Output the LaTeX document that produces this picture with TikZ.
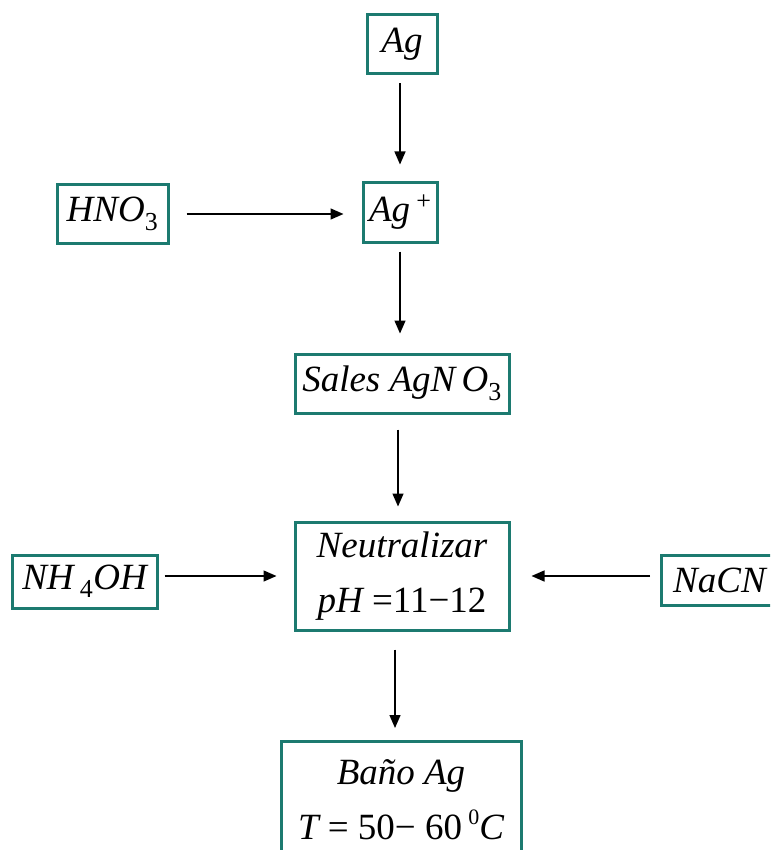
\documentclass[tikz,border=0pt]{standalone}
\usepackage{fontspec}
\setmainfont{Liberation Serif}
\usetikzlibrary{arrows.meta}
\definecolor{boxteal}{RGB}{28,122,112}
\tikzset{
  x=1pt,y=-1pt,
  box/.style={draw=boxteal,line width=3pt,inner sep=0pt,align=center,
    font=\fontsize{37}{55}\selectfont},
  arr/.style={line width=1.4pt,-{Triangle[length=13pt,width=11pt]}}
}
\begin{document}
\begin{tikzpicture}
\useasboundingbox (0,0) rectangle (770,850);
\clip (0,0) rectangle (770,850);
\node[box,minimum width=70pt,minimum height=59pt] (ag) at (402,44.5) {\itshape Ag};
\node[box,minimum width=111pt,minimum height=58pt] (hno) at (112.5,214) {\itshape HNO\textsubscript{\upshape 3}};
\node[box,minimum width=74pt,minimum height=59pt] (agp) at (400,212.5) {\itshape Ag\,\raisebox{0.32em}{\upshape\fontsize{26}{26}\selectfont +}};
\node[box,minimum width=214pt,minimum height=59pt] (sal) at (402,383.5) {\itshape Sales AgN\,O\textsubscript{\upshape 3}};
\node[box,minimum width=214pt,minimum height=108pt] (neu) at (402,576) {\itshape Neutralizar\\{\itshape pH} =11{\upshape −}12};
\node[box,minimum width=145pt,minimum height=53pt] (nh) at (84.5,581.5) {\itshape NH\,\textsubscript{\upshape 4}OH};
\node[box,minimum width=120pt,minimum height=50pt,anchor=west] (nacn) at (660,580) {\itshape NaCN\hspace{4pt}};
\node[box,minimum width=240pt,minimum height=116pt,anchor=north] (ban) at (401,740) {\itshape Baño Ag\\{\itshape T} = 50− 60\,\raisebox{0.4em}{\fontsize{22}{22}\selectfont 0}{\itshape C}};
\draw[arr] ([xshift=-2pt,yshift=-8pt]ag.south) -- ([yshift=17pt]agp.north);
\draw[arr] ([xshift=17pt]hno.east) -- ([xshift=-18pt]hno.east -| agp.west);
\draw[arr] ([yshift=-8pt]agp.south) -- ([yshift=19pt]agp.south |- sal.north);
\draw[arr] ([xshift=-4pt,yshift=-15pt]sal.south) -- ([xshift=-4pt,yshift=14pt]neu.north);
\draw[arr] ([xshift=6pt]nh.east |- neu.west) -- ([xshift=-17pt]neu.west);
\draw[arr] ([xshift=-10pt]nacn.west |- neu.east) -- ([xshift=21pt]neu.east);
\draw[arr] ([xshift=-7pt,yshift=-18pt]neu.south) -- ([xshift=-6pt,yshift=12pt]ban.north);
\end{tikzpicture}
\end{document}
